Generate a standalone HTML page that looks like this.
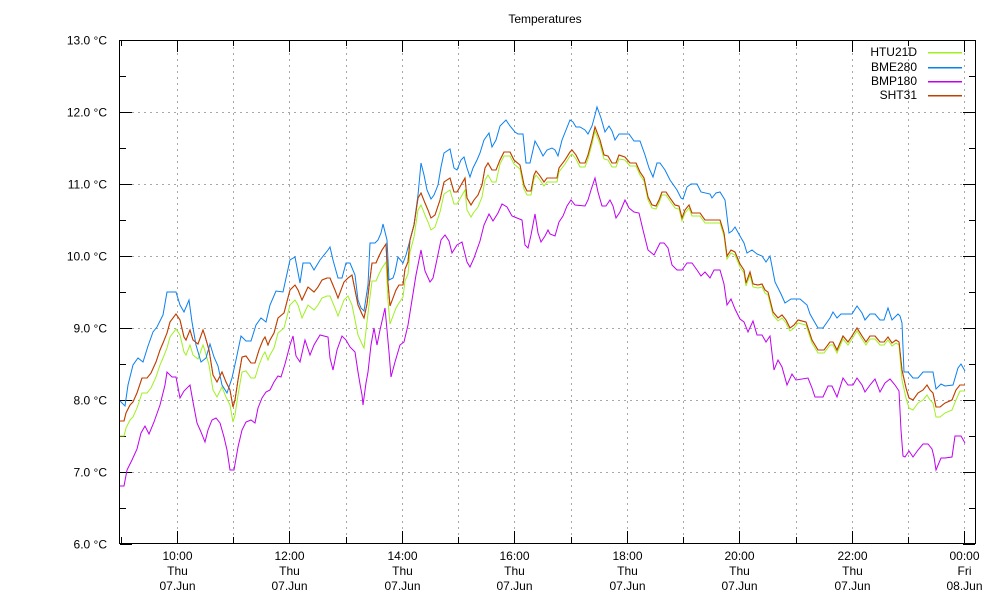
<!DOCTYPE html>
<html><head><meta charset="utf-8"><style>
html,body{margin:0;padding:0;background:#fff;}
svg{display:block;font-family:"Liberation Sans",sans-serif;font-size:12px;}
</style></head><body>
<svg id="s" width="1000" height="600" xmlns="http://www.w3.org/2000/svg">
<rect width="1000" height="600" fill="#fff"/>
<g id="grid" stroke="#a8a8a8" stroke-dasharray="2,4" stroke-width="1" shape-rendering="crispEdges"></g>
<g id="ticks" stroke="#000" stroke-width="1" shape-rendering="crispEdges"></g>
<rect x="119.5" y="40.5" width="856" height="503" fill="none" stroke="#000" shape-rendering="crispEdges"/>
<text x="545" y="23" text-anchor="middle">Temperatures</text>
<g id="ylab" text-anchor="end"></g>
<g id="xlab" text-anchor="middle"></g>
<polyline id="sht" fill="none" stroke="#c04000" stroke-width="1"/>
<polyline id="htu" fill="none" stroke="#a0f020" stroke-width="1"/>
<polyline id="bme" fill="none" stroke="#0a80f0" stroke-width="1"/>
<polyline id="bmp" fill="none" stroke="#c000f0" stroke-width="1"/>
<polyline id="sht2" fill="none" stroke="#c04000" stroke-width="1"/>
<g text-anchor="end">
<text x="917" y="56">HTU21D</text>
<text x="917" y="71">BME280</text>
<text x="917" y="85">BMP180</text>
<text x="917" y="99">SHT31</text>
</g>
<rect x="928" y="52" width="34" height="1.5" fill="#a0f020"/>
<rect x="928" y="67" width="34" height="1.5" fill="#0a80f0"/>
<rect x="928" y="81" width="34" height="1.5" fill="#c000f0"/>
<rect x="928" y="95" width="34" height="1.5" fill="#c04000"/>
</svg>
<script>
var NS="http://www.w3.org/2000/svg";
function el(p,t,a,txt){var e=document.createElementNS(NS,t);for(var k in a)e.setAttribute(k,a[k]);if(txt)e.textContent=txt;document.getElementById(p).appendChild(e);}
for(var i=0;i<=7;i++){var y=Math.round(40+i*72)+0.5;var v=(13-i).toFixed(1);
 if(i>0&&i<7){el('grid','line',{x1:120,y1:y,x2:975,y2:y});}
 el('ticks','line',{x1:120,y1:y,x2:132,y2:y});el('ticks','line',{x1:963,y1:y,x2:975,y2:y});
 el('ylab','text',{x:107,y:y+4},v+" \u00B0C");
 if(i<7){var y2=Math.round(40+i*72+36)+0.5;el('ticks','line',{x1:120,y1:y2,x2:126,y2:y2});el('ticks','line',{x1:969,y1:y2,x2:975,y2:y2});}
}
for(var h=0;h<=15;h++){var x=Math.round(120.5+h*56.25)+0.5;if(x>975)break;
 if(h>0)el('grid','line',{x1:x,y1:41,x2:x,y2:543});
 var L=(h%2==1)?12:6;
 el('ticks','line',{x1:x,y1:543,x2:x,y2:543-L});el('ticks','line',{x1:x,y1:40,x2:x,y2:40+L});
 if(h%2==1){var hr=(9+h)%24;var s=(hr<10?"0":"")+hr+":00";
  el('xlab','text',{x:x,y:560},s);
  el('xlab','text',{x:x,y:575},hr==0?"Fri":"Thu");
  el('xlab','text',{x:x,y:590},hr==0?"08.Jun":"07.Jun");}
}
function P(a){var s=[];for(var i=0;i<a.length;i+=2)s.push(a[i]+","+a[i+1]);return s.join(" ");}
var bme=[120,401,125,406,128,385,133,365,138,358,143,362,148,346,153,332,157,327,163,315,167,292,176,292,180,305,184,312,189,300,192,322,196,345,201,362,206,358,210,344,214,357,218,366,222,385,227,393,232,378,236,360,241,336,246,341,251,341,256,325,261,318,266,322,270,305,276,291,283,292,290,260,295,257,300,283,303,263,310,263,314,270,320,260,328,250,330,247,333,260,338,278,342,278,346,263,350,263,355,275,358,300,361,308,364,311,368,285,370,243,375,243,378,240,381,233,383,224,387,240,389,280,393,278,395,272,398,257,403,263,406,255,410,240,414,225,418,195,421,163,424,175,427,190,431,199,434,195,438,185,441,167,444,153,450,149,454,168,457,170,461,160,464,157,467,168,470,177,473,168,477,160,480,153,484,140,489,133,492,147,496,140,500,126,506,120,510,126,515,132,518,134,523,134,526,163,530,163,533,150,535,141,539,148,543,156,547,150,552,148,555,150,558,156,562,140,566,130,570,120,573,122,576,127,580,127,585,130,588,134,592,126,595,115,597,107,601,118,605,132,609,126,612,131,615,140,619,134,629,134,634,141,640,141,645,155,649,168,653,177,657,163,660,163,665,170,670,180,677,190,681,198,683,199,687,187,691,184,697,184,701,192,710,194,712,198,716,193,720,192,725,200,729,233,732,231,735,227,740,236,744,243,747,253,752,250,757,254,762,256,766,262,770,256,775,282,781,294,785,303,791,299,797,299,800,299,807,305,810,314,818,328,823,328,830,318,833,312,837,318,841,314,852,314,857,306,862,313,865,320,870,314,875,314,880,320,884,320,888,308,892,320,898,314,900,316,902,323,904,372,908,372,913,378,918,378,923,372,933,372,936,389,941,384,945,386,953,385,958,368,961,364,965,371];
var bmp=[120,486,124,486,127,470,132,460,137,449,141,433,145,426,149,434,154,422,160,405,165,385,167,372,172,377,176,377,180,398,184,391,190,385,193,402,197,423,201,432,205,442,208,430,212,420,216,418,220,423,224,437,227,450,230,470,234,470,238,447,242,430,246,422,251,420,255,423,258,408,262,398,266,392,270,390,274,382,278,376,281,377,285,364,290,345,293,336,296,356,300,362,305,340,310,355,314,345,320,335,328,337,330,358,333,370,337,350,342,336,346,340,350,347,355,352,358,372,360,384,362,395,363,405,366,383,368,372,371,345,374,328,377,345,380,330,385,308,389,352,391,377,395,362,400,345,404,342,408,325,412,300,416,275,421,250,425,271,430,282,433,278,436,264,441,240,445,235,449,241,452,253,457,245,462,242,467,262,470,267,474,258,480,241,484,225,489,214,493,221,498,213,502,204,507,207,512,216,517,218,522,220,525,245,528,248,531,235,535,214,538,233,541,242,545,236,548,230,550,234,555,236,559,222,563,216,567,206,571,200,575,205,585,206,588,200,591,190,595,178,598,192,602,206,606,206,610,200,613,206,616,218,620,212,625,200,629,208,634,212,639,213,643,230,648,250,654,255,660,243,664,243,668,248,672,265,677,270,682,270,687,263,692,263,697,270,701,276,705,272,710,278,714,270,720,270,724,284,727,305,731,299,735,309,740,319,744,322,748,332,753,321,757,335,762,335,766,342,770,336,774,370,778,360,782,367,787,385,792,374,796,380,808,378,812,388,815,397,823,397,828,386,832,386,837,397,843,378,848,385,853,385,857,378,862,385,865,392,870,385,875,379,880,392,885,383,890,379,895,385,899,391,901,430,903,456,905,457,909,451,913,457,918,450,923,444,928,444,932,449,934,457,936,470,941,458,945,458,952,457,955,436,961,436,965,443];
var sht=[120,421,124,421,126,413,130,405,133,402,137,393,142,378,147,378,151,373,156,362,160,350,163,343,167,333,170,322,176,314,180,320,184,337,186,340,190,330,193,340,198,344,203,330,205,336,209,350,213,375,217,382,222,372,226,382,230,390,233,407,235,400,238,380,242,357,246,356,251,363,255,363,259,350,263,340,265,337,268,345,270,340,274,333,278,318,284,313,290,290,295,285,298,290,302,300,308,287,314,292,318,287,322,280,327,278,330,278,335,290,338,298,341,290,344,282,348,278,352,275,355,290,358,305,362,314,364,318,367,304,369,287,372,263,376,263,379,256,382,250,386,244,388,283,390,306,393,298,396,290,399,285,403,285,405,269,408,262,410,240,414,225,418,198,421,193,425,203,428,210,431,218,435,215,440,200,444,182,450,178,454,192,457,192,461,185,465,178,467,198,471,205,474,200,478,195,482,185,485,168,488,163,492,170,496,170,500,160,504,152,510,152,514,160,520,165,524,185,527,191,531,191,534,175,536,171,540,176,544,182,547,178,557,178,559,168,565,160,570,152,572,150,576,155,580,163,585,163,588,155,592,140,595,127,600,140,604,155,608,156,612,163,616,163,619,155,625,157,630,163,636,163,640,172,644,178,648,197,652,205,656,206,659,200,662,192,666,192,670,198,675,205,679,206,682,218,685,210,689,205,692,213,700,213,705,220,720,220,724,233,727,256,731,250,735,252,740,264,744,270,746,283,750,272,753,284,758,285,762,284,765,290,768,292,773,312,778,318,782,315,786,320,790,328,794,325,798,320,806,322,812,340,818,350,824,350,830,342,833,342,837,350,843,336,848,342,852,336,857,328,862,336,866,342,870,336,875,336,880,342,884,342,888,337,892,343,896,340,899,342,902,370,906,388,909,398,913,400,918,393,923,390,927,385,930,390,933,393,936,407,940,407,945,403,952,400,956,390,960,385,965,385];
function off(x){if(x<300)return 15;if(x<400)return 18;if(x<500)return 12;if(x<620)return 4;if(x<900)return 3;if(x<960)return 10;return 6;}
var htu=[];for(var i=0;i<sht.length;i+=2){var x=sht[i];var o=off(x);if(x>=352&&x<=366)o=30;if(x>=230&&x<=236)o=15;htu.push(x,sht[i+1]+o);}
document.getElementById('bme').setAttribute('points',P(bme));
document.getElementById('bmp').setAttribute('points',P(bmp));
document.getElementById('sht').setAttribute('points',P(sht));
document.getElementById('htu').setAttribute('points',P(htu));
document.getElementById('sht2').setAttribute('points',P(sht));
</script>
</body></html>
